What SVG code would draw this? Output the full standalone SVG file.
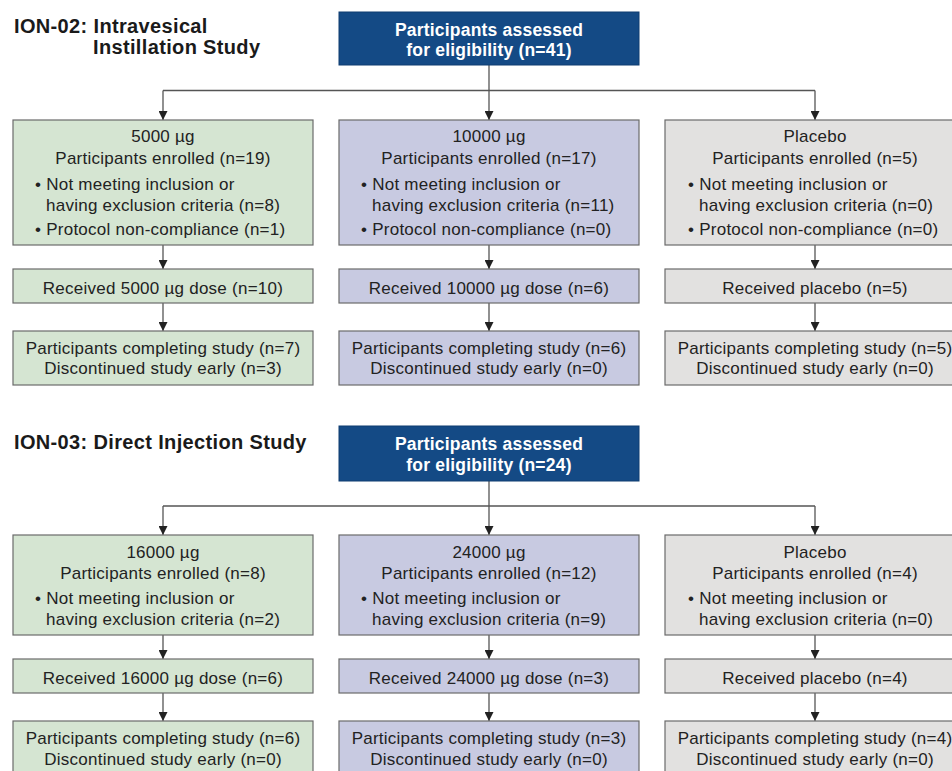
<svg xmlns="http://www.w3.org/2000/svg" width="952" height="771" viewBox="0 0 952 771">
<defs>
<style>
.hd{font-family:"Liberation Sans",Arial,sans-serif;font-weight:bold;font-size:20px;letter-spacing:0.35px;fill:#1a1a1a}
.tb rect{fill:#144a85;stroke:#0f3d70;stroke-width:1}
.tb text{font-family:"Liberation Sans",Arial,sans-serif;font-weight:bold;font-size:17.5px;letter-spacing:0.2px;fill:#ffffff;text-anchor:middle}
.bx rect{stroke:#6b6b6b;stroke-width:1.2}
.g rect{fill:#d5e5d2}
.l rect{fill:#c8cae1}
.p rect{fill:#e2e1e0}
.bx text{font-family:"Liberation Sans",Arial,sans-serif;font-size:17px;letter-spacing:0.25px;fill:#222}
.c{text-anchor:middle}
.cn path{fill:none;stroke:#555;stroke-width:1.3}
.cn .a{marker-end:url(#ah)}
</style>
<marker id="ah" viewBox="0 0 10 10" refX="10" refY="5" markerWidth="9" markerHeight="9" orient="auto" markerUnits="userSpaceOnUse"><path d="M0,0 L10,5 L0,10 z" fill="#222"/></marker>
</defs>
<rect width="952" height="771" fill="#ffffff"/>

<g id="header1">
<text class="hd" x="14" y="33">ION-02: Intravesical</text>
<text class="hd" x="93" y="54">Instillation Study</text>
</g>
<g id="header2">
<text class="hd" x="14" y="449">ION-03: Direct Injection Study</text>
</g>

<g id="connectors" class="cn">
<path class="a" d="M489,65 V120"/>
<path d="M163,90.5 H815"/>
<path class="a" d="M163,90.5 V120"/>
<path class="a" d="M815,90.5 V120"/>
<path class="a" d="M163,245 V269"/>
<path class="a" d="M489,245 V269"/>
<path class="a" d="M815,245 V269"/>
<path class="a" d="M163,303 V331"/>
<path class="a" d="M489,303 V331"/>
<path class="a" d="M815,303 V331"/>
<path class="a" d="M489,481 V535"/>
<path d="M163,506 H815"/>
<path class="a" d="M163,506 V535"/>
<path class="a" d="M815,506 V535"/>
<path class="a" d="M163,635 V659"/>
<path class="a" d="M489,635 V659"/>
<path class="a" d="M815,635 V659"/>
<path class="a" d="M163,693 V721"/>
<path class="a" d="M489,693 V721"/>
<path class="a" d="M815,693 V721"/>
</g>

<g id="assess1" class="tb">
<rect x="339" y="12" width="300" height="53"/>
<text x="489" y="35.5">Participants assessed</text>
<text x="489" y="56">for eligibility (n=41)</text>
</g>

<g id="enr5000" class="bx g">
<rect x="13" y="120" width="300" height="125"/>
<text class="c" x="163" y="142">5000 µg</text>
<text class="c" x="163" y="163.5">Participants enrolled (n=19)</text>
<text x="35" y="190">• Not meeting inclusion or</text>
<text x="46" y="210.5">having exclusion criteria (n=8)</text>
<text x="35" y="235">• Protocol non-compliance (n=1)</text>
</g>
<g id="enr10000" class="bx l">
<rect x="339" y="120" width="300" height="125"/>
<text class="c" x="489" y="142">10000 µg</text>
<text class="c" x="489" y="163.5">Participants enrolled (n=17)</text>
<text x="361" y="190">• Not meeting inclusion or</text>
<text x="372" y="210.5">having exclusion criteria (n=11)</text>
<text x="361" y="235">• Protocol non-compliance (n=0)</text>
</g>
<g id="enrPlacebo1" class="bx p">
<rect x="665" y="120" width="300" height="125"/>
<text class="c" x="815" y="142">Placebo</text>
<text class="c" x="815" y="163.5">Participants enrolled (n=5)</text>
<text x="688" y="190">• Not meeting inclusion or</text>
<text x="699" y="210.5">having exclusion criteria (n=0)</text>
<text x="688" y="235">• Protocol non-compliance (n=0)</text>
</g>

<g id="rec5000" class="bx g">
<rect x="13" y="269" width="300" height="34"/>
<text class="c" x="163" y="293.5">Received 5000 µg dose (n=10)</text>
</g>
<g id="rec10000" class="bx l">
<rect x="339" y="269" width="300" height="34"/>
<text class="c" x="489" y="293.5">Received 10000 µg dose (n=6)</text>
</g>
<g id="recPlacebo1" class="bx p">
<rect x="665" y="269" width="300" height="34"/>
<text class="c" x="815" y="293.5">Received placebo (n=5)</text>
</g>

<g id="comp5000" class="bx g">
<rect x="13" y="331" width="300" height="54"/>
<text class="c" x="163" y="353.5">Participants completing study (n=7)</text>
<text class="c" x="163" y="374">Discontinued study early (n=3)</text>
</g>
<g id="comp10000" class="bx l">
<rect x="339" y="331" width="300" height="54"/>
<text class="c" x="489" y="353.5">Participants completing study (n=6)</text>
<text class="c" x="489" y="374">Discontinued study early (n=0)</text>
</g>
<g id="compPlacebo1" class="bx p">
<rect x="665" y="331" width="300" height="54"/>
<text class="c" x="815" y="353.5">Participants completing study (n=5)</text>
<text class="c" x="815" y="374">Discontinued study early (n=0)</text>
</g>

<g id="assess2" class="tb">
<rect x="339" y="426" width="300" height="55"/>
<text x="489" y="450">Participants assessed</text>
<text x="489" y="470.5">for eligibility (n=24)</text>
</g>

<g id="enr16000" class="bx g">
<rect x="13" y="535" width="300" height="100"/>
<text class="c" x="163" y="557.5">16000 µg</text>
<text class="c" x="163" y="579">Participants enrolled (n=8)</text>
<text x="35" y="604">• Not meeting inclusion or</text>
<text x="46" y="624.5">having exclusion criteria (n=2)</text>
</g>
<g id="enr24000" class="bx l">
<rect x="339" y="535" width="300" height="100"/>
<text class="c" x="489" y="557.5">24000 µg</text>
<text class="c" x="489" y="579">Participants enrolled (n=12)</text>
<text x="361" y="604">• Not meeting inclusion or</text>
<text x="372" y="624.5">having exclusion criteria (n=9)</text>
</g>
<g id="enrPlacebo2" class="bx p">
<rect x="665" y="535" width="300" height="100"/>
<text class="c" x="815" y="557.5">Placebo</text>
<text class="c" x="815" y="579">Participants enrolled (n=4)</text>
<text x="688" y="604">• Not meeting inclusion or</text>
<text x="699" y="624.5">having exclusion criteria (n=0)</text>
</g>

<g id="rec16000" class="bx g">
<rect x="13" y="659" width="300" height="34"/>
<text class="c" x="163" y="683.5">Received 16000 µg dose (n=6)</text>
</g>
<g id="rec24000" class="bx l">
<rect x="339" y="659" width="300" height="34"/>
<text class="c" x="489" y="683.5">Received 24000 µg dose (n=3)</text>
</g>
<g id="recPlacebo2" class="bx p">
<rect x="665" y="659" width="300" height="34"/>
<text class="c" x="815" y="683.5">Received placebo (n=4)</text>
</g>

<g id="comp16000" class="bx g">
<rect x="13" y="721" width="300" height="54"/>
<text class="c" x="163" y="744">Participants completing study (n=6)</text>
<text class="c" x="163" y="764.5">Discontinued study early (n=0)</text>
</g>
<g id="comp24000" class="bx l">
<rect x="339" y="721" width="300" height="54"/>
<text class="c" x="489" y="744">Participants completing study (n=3)</text>
<text class="c" x="489" y="764.5">Discontinued study early (n=0)</text>
</g>
<g id="compPlacebo2" class="bx p">
<rect x="665" y="721" width="300" height="54"/>
<text class="c" x="815" y="744">Participants completing study (n=4)</text>
<text class="c" x="815" y="764.5">Discontinued study early (n=0)</text>
</g>
</svg>
